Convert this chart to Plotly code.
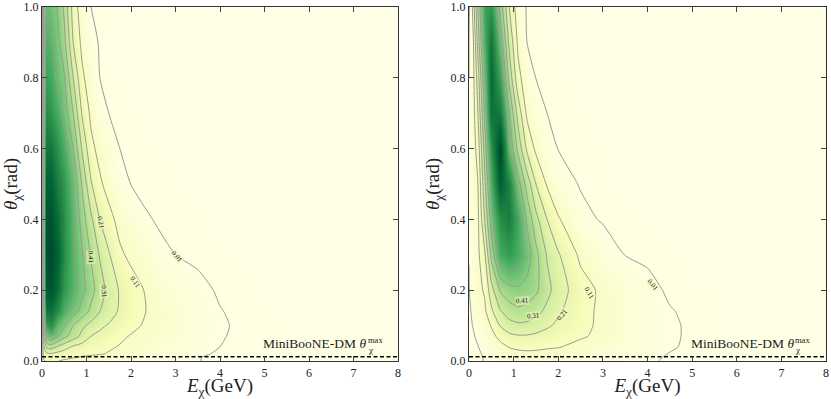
import plotly.graph_objects as go
from plotly.subplots import make_subplots

energy = [0, .04, .1, .2, .35, .5, .7, .9, 1.1, 1.3, 1.5, 1.75, 2, 2.5, 3, 3.5, 4, 4.5, 5, 6, 8]
theta = [0, .01, .02, .04, .07, .1, .14, .2, .3, .4, .5, .6, .7, .8, .9, 1.0]

density_left = [
    [0, .10, .12, .118, .112, .10, .085, .075, .065, .055, .05, .04, .032, .022, .015, .011, .004, .002, .001, 0, 0],
    [0, .12, .15, .15, .135, .125, .115, .10, .09, .08, .07, .055, .045, .03, .02, .011, .005, .002, .001, 0, 0],
    [0, .14, .19, .20, .18, .165, .15, .135, .125, .115, .105, .085, .07, .045, .028, .014, .007, .003, .001, .0005, 0],
    [0, .2, .33, .36, .30, .25, .195, .17, .15, .135, .12, .105, .09, .06, .04, .022, .01, .004, .002, .001, 0],
    [0, .3, .55, .60, .52, .44, .36, .285, .21, .185, .16, .125, .105, .075, .05, .03, .012, .005, .002, .001, 0],
    [0, .38, .72, .79, .60, .52, .41, .33, .28, .23, .20, .16, .13, .085, .06, .035, .013, .006, .002, .001, 0],
    [0, .45, .89, .92, .79, .66, .56, .47, .385, .31, .26, .195, .15, .09, .06, .03, .011, .005, .002, .001, 0],
    [0, .5, 1.0, 1.05, .92, .76, .64, .54, .45, .355, .275, .20, .15, .08, .045, .017, .007, .003, .0015, .0005, 0],
    [0, .55, 1.05, 1.08, .97, .80, .64, .52, .40, .30, .22, .125, .09, .04, .01, .005, .002, .001, .0005, 0, 0],
    [0, .55, 1.03, 1.05, .92, .79, .63, .46, .33, .21, .14, .08, .045, .009, .004, .002, .001, 0, 0, 0, 0],
    [0, .55, .98, .98, .85, .76, .60, .40, .22, .125, .075, .022, .0095, .004, .002, .001, 0, 0, 0, 0, 0],
    [0, .52, .89, .89, .77, .67, .51, .30, .135, .08, .045, .01, .006, .002, .001, 0, 0, 0, 0, 0, 0],
    [0, .5, .80, .76, .67, .57, .41, .20, .09, .035, .01, .005, .002, .001, 0, 0, 0, 0, 0, 0, 0],
    [0, .48, .72, .69, .58, .52, .31, .13, .055, .01, .005, .002, .001, 0, 0, 0, 0, 0, 0, 0, 0],
    [0, .45, .66, .63, .54, .44, .21, .085, .025, .006, .003, .001, 0, 0, 0, 0, 0, 0, 0, 0, 0],
    [0, .45, .60, .57, .50, .39, .17, .05, .01, .004, .002, .001, 0, 0, 0, 0, 0, 0, 0, 0, 0],
]

density_right = [
    [0, 0, .001, .003, .012, .018, .03, .04, .05, .055, .055, .05, .045, .035, .028, .02, .013, .007, .002, .001, 0],
    [0, .0005, .001, .004, .012, .022, .04, .055, .065, .07, .07, .065, .06, .045, .035, .022, .014, .008, .002, .001, 0],
    [0, .001, .002, .005, .015, .03, .05, .07, .085, .09, .09, .085, .08, .06, .045, .03, .017, .009, .003, .001, 0],
    [0, .001, .003, .008, .03, .05, .085, .115, .13, .135, .13, .12, .115, .085, .065, .045, .028, .013, .005, .001, 0],
    [0, .002, .006, .02, .05, .085, .135, .185, .20, .20, .19, .17, .15, .12, .09, .055, .03, .014, .006, .001, 0],
    [.001, .005, .013, .035, .07, .115, .215, .27, .29, .285, .26, .225, .19, .135, .09, .055, .03, .015, .005, .001, 0],
    [.002, .009, .035, .06, .09, .19, .30, .36, .385, .375, .34, .285, .225, .14, .09, .055, .03, .012, .004, .001, 0],
    [.005, .03, .055, .085, .12, .27, .42, .47, .49, .47, .43, .34, .26, .15, .09, .05, .02, .005, .002, .001, 0],
    [.012, .03, .05, .09, .19, .44, .68, .74, .68, .57, .44, .30, .22, .09, .035, .009, .004, .002, .001, 0, 0],
    [.02, .035, .06, .09, .31, .56, .80, .86, .69, .49, .34, .21, .12, .022, .006, .004, .002, .001, 0, 0, 0],
    [.02, .04, .065, .11, .38, .66, 1.0, .84, .55, .37, .21, .10, .03, .007, .003, .001, 0, 0, 0, 0, 0],
    [.02, .04, .07, .15, .45, .76, 1.1, .60, .38, .19, .09, .025, .009, .004, .002, .001, 0, 0, 0, 0, 0],
    [.02, .05, .08, .21, .53, .92, .87, .52, .27, .09, .04, .01, .005, .002, .001, 0, 0, 0, 0, 0, 0],
    [.01, .03, .09, .26, .60, .95, .72, .38, .14, .05, .009, .004, .002, .001, 0, 0, 0, 0, 0, 0, 0],
    [.01, .025, .11, .35, .69, .90, .59, .29, .09, .01, .005, .002, .001, 0, 0, 0, 0, 0, 0, 0, 0],
    [.005, .03, .17, .41, .72, .76, .48, .21, .05, .005, .002, .001, 0, 0, 0, 0, 0, 0, 0, 0, 0],
]

theta_max = [0.012, 0.012]
theta_max_energy = [0, 8]
x_ticks = [0, 1, 2, 3, 4, 5, 6, 7, 8]
y_ticks = [0.0, 0.2, 0.4, 0.6, 0.8, 1.0]
labels_left = [("0.01", 3.03, .293, 50), ("0.11", 2.09, .223, 55), ("0.21", 1.32, .39, 80),
               ("0.41", 1.09, .293, 88), ("0.31", 1.39, .195, 88)]
labels_right = [("0.01", 4.11, .214, 50), ("0.11", 2.69, .192, 60), ("0.21", 2.09, .13, -50),
                ("0.31", 1.45, .127, -5), ("0.41", 1.19, .169, -3)]

ylgn = [[0, "#ffffe5"], [.125, "#f7fcb9"], [.25, "#d9f0a3"], [.375, "#addd8e"], [.5, "#78c679"],
        [.625, "#41ab5d"], [.75, "#238443"], [.875, "#006837"], [1, "#004529"]]
SERIF = "Liberation Serif"
INK = "#222222"

fig = make_subplots(rows=1, cols=2)
for col, z in ((1, density_left), (2, density_right)):
    fig.add_trace(go.Heatmap(x=energy, y=theta, z=z, colorscale=ylgn, zmin=0, zmax=1.1, zsmooth="best",
                             showscale=False, hoverinfo="skip"), row=1, col=col)
    fig.add_trace(go.Contour(x=energy, y=theta, z=z, showscale=False, hoverinfo="skip",
                             contours=dict(start=.01, end=.61, size=.1, coloring="none"),
                             line=dict(color="#9a9a92", width=1, smoothing=.6)), row=1, col=col)
    fig.add_trace(go.Scatter(x=theta_max_energy, y=theta_max, mode="lines", showlegend=False, hoverinfo="skip",
                             line=dict(color="black", width=1.5, dash="4px,2.5px")), row=1, col=col)

axis = dict(showgrid=False, zeroline=False, showline=True, linecolor="#333333", linewidth=1.3, mirror="ticks",
            ticks="inside", ticklen=5, tickcolor="#444444", tickwidth=1, automargin=False,
            tickfont=dict(family=SERIF, size=12, color=INK))
fig.update_xaxes(range=[0, 8], tickvals=x_ticks, ticktext=[str(t) for t in x_ticks],
                 title=dict(text="<i>E</i><sub>χ</sub>(GeV)", font=dict(family=SERIF, size=19, color=INK), standoff=2), **axis)
fig.update_yaxes(range=[0, 1], tickvals=y_ticks, ticktext=[f"{t:.1f}" for t in y_ticks],
                 title=dict(text="<i>θ</i><sub>χ</sub>(rad)", font=dict(family=SERIF, size=19, color=INK), standoff=5), **axis)

W, H = 831, 399
fig.update_layout(
    width=W, height=H, margin=dict(l=0, r=0, t=0, b=0, autoexpand=False), paper_bgcolor="white", plot_bgcolor="white", showlegend=False,
    xaxis=dict(domain=[42 / W, 398 / W]), xaxis2=dict(domain=[469 / W, 826 / W]),
    yaxis=dict(domain=[1 - 361 / H, 1 - 7 / H]), yaxis2=dict(domain=[1 - 361 / H, 1 - 7 / H]),
)

for xref, yref, labels in (("x", "y", labels_left), ("x2", "y2", labels_right)):
    for text, x, y, angle in labels:
        fig.add_annotation(x=x, y=y, xref=xref, yref=yref, text=text, textangle=angle, showarrow=False,
                           font=dict(family=SERIF, size=7, color="#111111"), borderpad=0,
                           bgcolor="rgba(245,250,195,0.5)")
    fig.add_annotation(x=7.33, y=.0495, xref=xref, yref=yref, text="MiniBooNE-DM <i>θ</i>", showarrow=False,
                       xanchor="right", font=dict(family=SERIF, size=13.5, color=INK))
    fig.add_annotation(x=7.27, y=.06, xref=xref, yref=yref, text="max", showarrow=False, xanchor="left",
                       font=dict(family=SERIF, size=8.5, color=INK))
    fig.add_annotation(x=7.27, y=.032, xref=xref, yref=yref, text="χ", showarrow=False, xanchor="left",
                       font=dict(family=SERIF, size=9, color=INK))

fig.write_html("out.html", post_script="document.body.style.margin='0';", config=dict(displayModeBar=False))
